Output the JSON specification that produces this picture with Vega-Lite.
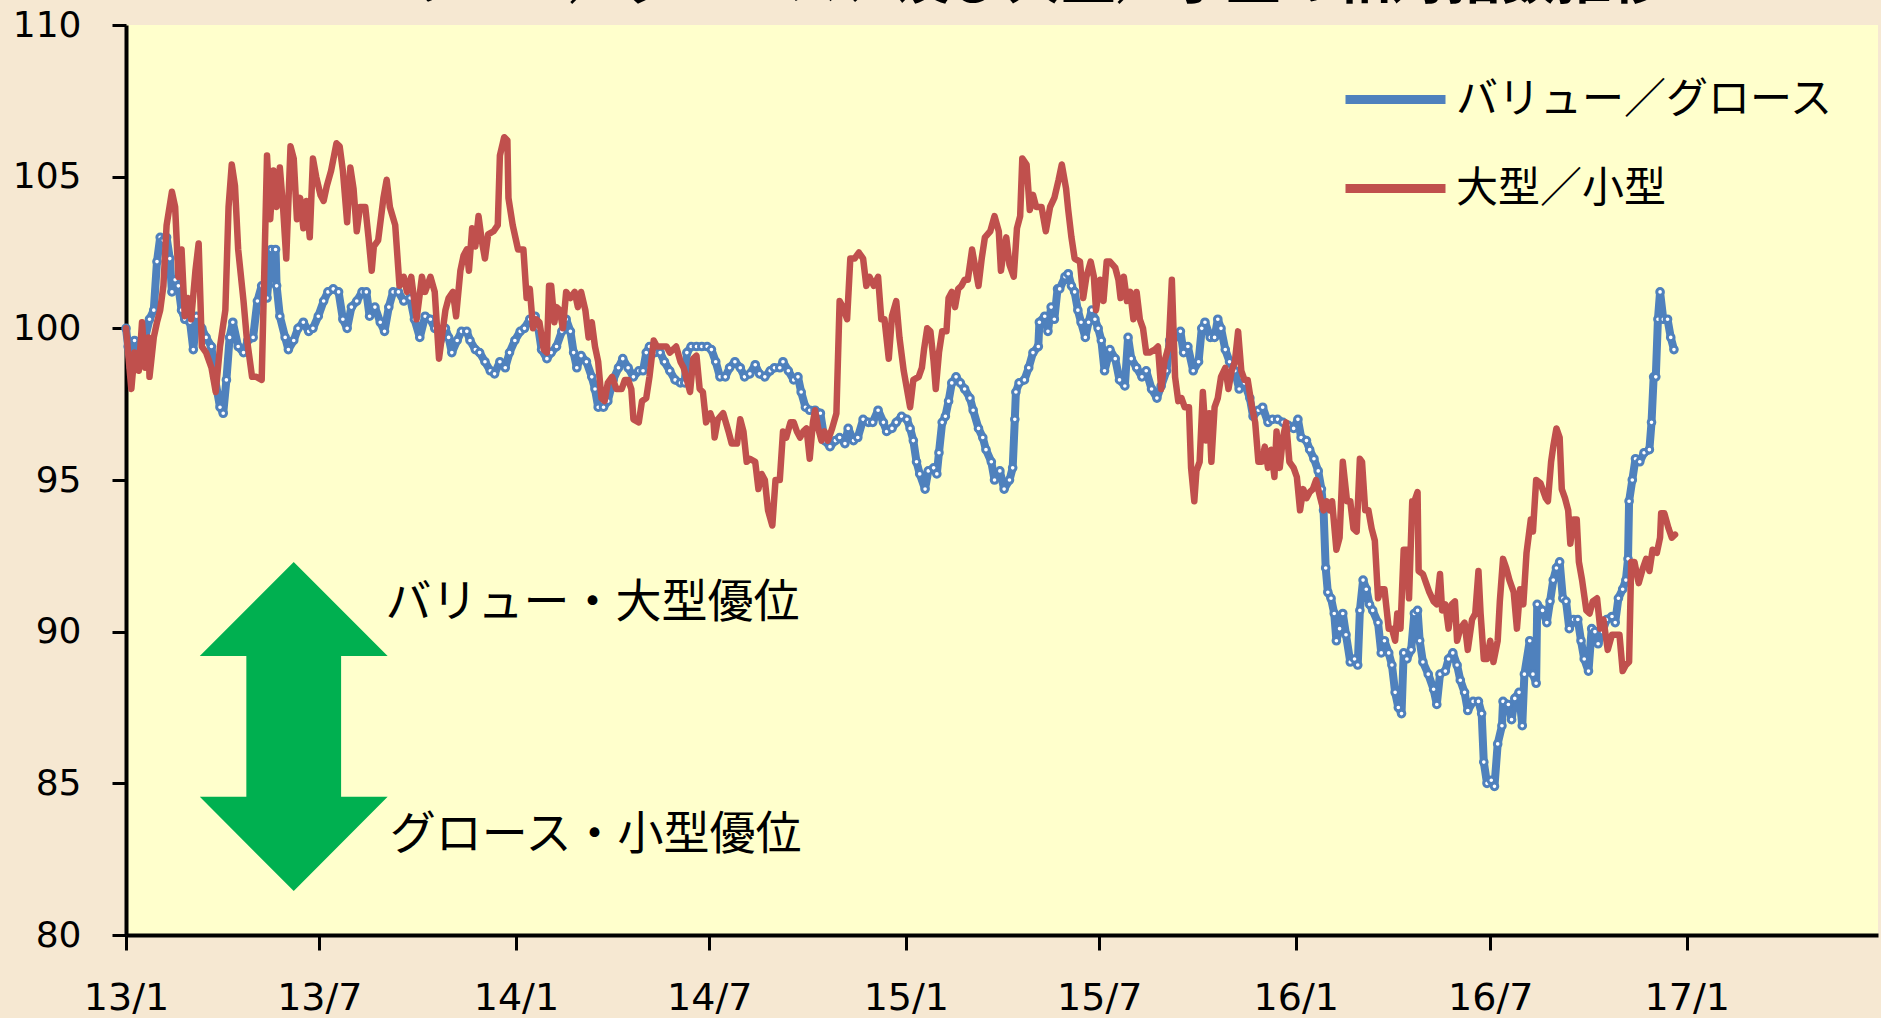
{
"$schema":"https://vega.github.io/schema/vega-lite/v6.json",
"width":1752,"height":910,
"autosize":{"type":"none"},
"padding":{"left":126,"top":25,"right":3,"bottom":83},
"background":"#F6E8D2",
"config":{"view":{"fill":"#FFFFCC","stroke":null},"axis":{"grid":false}},
"datasets":{
"vg":[
{"d":"2013-01-01","v":100.0},{"d":"2013-01-03","v":99.4},{"d":"2013-01-06","v":98.7},{"d":"2013-01-09","v":99.6},{"d":"2013-01-14","v":99.3},{"d":"2013-01-19","v":99.7},{"d":"2013-01-23","v":100.3},{"d":"2013-01-27","v":100.6},{"d":"2013-01-30","v":102.2},{"d":"2013-02-02","v":103.0},{"d":"2013-02-05","v":102.9},{"d":"2013-02-08","v":103.0},{"d":"2013-02-11","v":102.3},{"d":"2013-02-13","v":101.2},{"d":"2013-02-16","v":101.6},{"d":"2013-02-19","v":101.4},{"d":"2013-02-22","v":100.6},{"d":"2013-02-25","v":100.3},{"d":"2013-03-02","v":100.2},{"d":"2013-03-05","v":99.3},{"d":"2013-03-08","v":100.4},{"d":"2013-03-13","v":100.0},{"d":"2013-03-17","v":99.7},{"d":"2013-03-22","v":99.4},{"d":"2013-03-25","v":98.4},{"d":"2013-03-30","v":97.4},{"d":"2013-04-02","v":97.2},{"d":"2013-04-05","v":98.3},{"d":"2013-04-08","v":99.7},{"d":"2013-04-11","v":100.2},{"d":"2013-04-16","v":99.4},{"d":"2013-04-21","v":99.2},{"d":"2013-04-25","v":99.6},{"d":"2013-04-30","v":99.7},{"d":"2013-05-04","v":100.9},{"d":"2013-05-08","v":101.4},{"d":"2013-05-13","v":101.0},{"d":"2013-05-17","v":102.6},{"d":"2013-05-21","v":102.6},{"d":"2013-05-22","v":101.4},{"d":"2013-05-25","v":100.4},{"d":"2013-05-30","v":99.7},{"d":"2013-06-02","v":99.3},{"d":"2013-06-07","v":99.6},{"d":"2013-06-11","v":100.0},{"d":"2013-06-16","v":100.2},{"d":"2013-06-21","v":99.9},{"d":"2013-06-25","v":100.0},{"d":"2013-06-30","v":100.4},{"d":"2013-07-05","v":100.9},{"d":"2013-07-09","v":101.2},{"d":"2013-07-14","v":101.3},{"d":"2013-07-19","v":101.2},{"d":"2013-07-23","v":100.3},{"d":"2013-07-27","v":100.0},{"d":"2013-07-31","v":100.7},{"d":"2013-08-05","v":100.9},{"d":"2013-08-10","v":101.2},{"d":"2013-08-14","v":101.2},{"d":"2013-08-17","v":100.4},{"d":"2013-08-22","v":100.7},{"d":"2013-08-27","v":100.2},{"d":"2013-08-31","v":99.9},{"d":"2013-09-04","v":100.7},{"d":"2013-09-08","v":101.2},{"d":"2013-09-13","v":101.2},{"d":"2013-09-18","v":100.9},{"d":"2013-09-24","v":101.0},{"d":"2013-09-28","v":100.3},{"d":"2013-10-03","v":99.7},{"d":"2013-10-08","v":100.4},{"d":"2013-10-13","v":100.3},{"d":"2013-10-17","v":100.0},{"d":"2013-10-21","v":99.9},{"d":"2013-10-22","v":99.6},{"d":"2013-10-27","v":100.0},{"d":"2013-10-30","v":99.7},{"d":"2013-11-02","v":99.2},{"d":"2013-11-07","v":99.6},{"d":"2013-11-11","v":99.9},{"d":"2013-11-16","v":99.9},{"d":"2013-11-19","v":99.6},{"d":"2013-11-24","v":99.3},{"d":"2013-11-28","v":99.2},{"d":"2013-12-03","v":98.9},{"d":"2013-12-08","v":98.6},{"d":"2013-12-12","v":98.5},{"d":"2013-12-17","v":98.9},{"d":"2013-12-22","v":98.7},{"d":"2013-12-26","v":99.2},{"d":"2013-12-31","v":99.6},
{"d":"2014-01-05","v":99.9},{"d":"2014-01-09","v":100.0},{"d":"2014-01-14","v":100.3},{"d":"2014-01-19","v":100.4},{"d":"2014-01-22","v":100.0},{"d":"2014-01-25","v":99.3},{"d":"2014-01-30","v":99.0},{"d":"2014-02-03","v":99.2},{"d":"2014-02-08","v":99.4},{"d":"2014-02-13","v":99.9},{"d":"2014-02-17","v":100.3},{"d":"2014-02-21","v":99.9},{"d":"2014-02-24","v":99.2},{"d":"2014-02-27","v":98.7},{"d":"2014-03-03","v":99.1},{"d":"2014-03-08","v":98.9},{"d":"2014-03-13","v":98.4},{"d":"2014-03-16","v":98.0},{"d":"2014-03-19","v":97.4},{"d":"2014-03-24","v":97.4},{"d":"2014-03-28","v":97.6},{"d":"2014-04-02","v":98.3},{"d":"2014-04-07","v":98.7},{"d":"2014-04-11","v":99.0},{"d":"2014-04-16","v":98.7},{"d":"2014-04-21","v":98.4},{"d":"2014-04-26","v":98.6},{"d":"2014-04-30","v":98.6},{"d":"2014-05-03","v":99.2},{"d":"2014-05-06","v":99.4},{"d":"2014-05-11","v":99.2},{"d":"2014-05-16","v":99.2},{"d":"2014-05-20","v":98.9},{"d":"2014-05-25","v":98.6},{"d":"2014-05-30","v":98.3},{"d":"2014-06-04","v":98.2},{"d":"2014-06-08","v":98.2},{"d":"2014-06-10","v":99.2},{"d":"2014-06-14","v":99.4},{"d":"2014-06-19","v":99.4},{"d":"2014-06-24","v":99.4},{"d":"2014-06-29","v":99.4},{"d":"2014-07-03","v":99.3},{"d":"2014-07-07","v":98.9},{"d":"2014-07-11","v":98.4},{"d":"2014-07-16","v":98.4},{"d":"2014-07-20","v":98.7},{"d":"2014-07-25","v":98.9},{"d":"2014-07-30","v":98.7},{"d":"2014-08-03","v":98.4},{"d":"2014-08-08","v":98.5},{"d":"2014-08-13","v":98.8},{"d":"2014-08-17","v":98.5},{"d":"2014-08-22","v":98.4},{"d":"2014-08-27","v":98.6},{"d":"2014-08-31","v":98.7},{"d":"2014-09-05","v":98.7},{"d":"2014-09-08","v":98.9},{"d":"2014-09-13","v":98.6},{"d":"2014-09-18","v":98.3},{"d":"2014-09-22","v":98.4},{"d":"2014-09-25","v":97.9},{"d":"2014-09-29","v":97.4},{"d":"2014-10-03","v":97.3},{"d":"2014-10-08","v":97.3},{"d":"2014-10-13","v":97.2},{"d":"2014-10-17","v":96.3},{"d":"2014-10-22","v":96.1},{"d":"2014-10-27","v":96.3},{"d":"2014-10-31","v":96.4},{"d":"2014-11-05","v":96.2},{"d":"2014-11-08","v":96.7},{"d":"2014-11-13","v":96.3},{"d":"2014-11-17","v":96.4},{"d":"2014-11-22","v":97.0},{"d":"2014-11-27","v":96.9},{"d":"2014-12-01","v":96.9},{"d":"2014-12-06","v":97.3},{"d":"2014-12-11","v":96.9},{"d":"2014-12-14","v":96.6},{"d":"2014-12-19","v":96.7},{"d":"2014-12-23","v":96.9},{"d":"2014-12-28","v":97.1},
{"d":"2015-01-02","v":97.0},{"d":"2015-01-05","v":96.7},{"d":"2015-01-08","v":96.3},{"d":"2015-01-11","v":95.6},{"d":"2015-01-14","v":95.2},{"d":"2015-01-19","v":94.7},{"d":"2015-01-22","v":95.3},{"d":"2015-01-27","v":95.4},{"d":"2015-01-30","v":95.2},{"d":"2015-02-01","v":95.9},{"d":"2015-02-04","v":96.9},{"d":"2015-02-07","v":97.1},{"d":"2015-02-10","v":97.6},{"d":"2015-02-13","v":98.2},{"d":"2015-02-17","v":98.4},{"d":"2015-02-21","v":98.2},{"d":"2015-02-25","v":98.0},{"d":"2015-03-02","v":97.7},{"d":"2015-03-05","v":97.3},{"d":"2015-03-10","v":96.7},{"d":"2015-03-14","v":96.4},{"d":"2015-03-17","v":96.0},{"d":"2015-03-22","v":95.6},{"d":"2015-03-25","v":95.0},{"d":"2015-03-30","v":95.3},{"d":"2015-04-03","v":94.7},{"d":"2015-04-08","v":95.0},{"d":"2015-04-11","v":95.4},{"d":"2015-04-13","v":97.0},{"d":"2015-04-14","v":97.9},{"d":"2015-04-17","v":98.2},{"d":"2015-04-22","v":98.3},{"d":"2015-04-26","v":98.7},{"d":"2015-04-30","v":99.2},{"d":"2015-05-05","v":99.4},{"d":"2015-05-06","v":100.2},{"d":"2015-05-11","v":100.4},{"d":"2015-05-14","v":99.9},{"d":"2015-05-17","v":100.7},{"d":"2015-05-20","v":100.3},{"d":"2015-05-23","v":101.3},{"d":"2015-05-25","v":101.3},{"d":"2015-05-30","v":101.7},{"d":"2015-06-02","v":101.8},{"d":"2015-06-05","v":101.4},{"d":"2015-06-08","v":101.2},{"d":"2015-06-11","v":100.6},{"d":"2015-06-14","v":100.2},{"d":"2015-06-18","v":99.7},{"d":"2015-06-21","v":100.2},{"d":"2015-06-24","v":100.6},{"d":"2015-06-27","v":100.3},{"d":"2015-06-30","v":100.0},{"d":"2015-07-03","v":99.6},{"d":"2015-07-06","v":98.6},{"d":"2015-07-11","v":99.3},{"d":"2015-07-16","v":99.0},{"d":"2015-07-20","v":98.3},{"d":"2015-07-25","v":98.1},{"d":"2015-07-28","v":99.7},{"d":"2015-07-31","v":99.0},{"d":"2015-08-05","v":98.7},{"d":"2015-08-10","v":98.4},{"d":"2015-08-14","v":98.6},{"d":"2015-08-19","v":98.0},{"d":"2015-08-24","v":97.7},{"d":"2015-08-28","v":98.1},{"d":"2015-09-02","v":98.6},{"d":"2015-09-05","v":99.6},{"d":"2015-09-10","v":99.7},{"d":"2015-09-15","v":99.9},{"d":"2015-09-18","v":99.2},{"d":"2015-09-22","v":99.4},{"d":"2015-09-27","v":98.6},{"d":"2015-10-02","v":98.9},{"d":"2015-10-05","v":100.0},{"d":"2015-10-08","v":100.2},{"d":"2015-10-13","v":99.7},{"d":"2015-10-17","v":99.7},{"d":"2015-10-20","v":100.3},{"d":"2015-10-23","v":100.0},{"d":"2015-10-27","v":99.3},{"d":"2015-10-31","v":98.9},{"d":"2015-11-05","v":98.6},{"d":"2015-11-09","v":98.0},{"d":"2015-11-14","v":98.2},{"d":"2015-11-19","v":97.7},{"d":"2015-11-22","v":97.1},{"d":"2015-11-27","v":97.3},{"d":"2015-12-01","v":97.4},{"d":"2015-12-06","v":96.9},{"d":"2015-12-10","v":97.0},{"d":"2015-12-15","v":97.0},{"d":"2015-12-20","v":96.9},{"d":"2015-12-25","v":96.8},{"d":"2015-12-30","v":96.7},
{"d":"2016-01-03","v":97.0},{"d":"2016-01-06","v":96.4},{"d":"2016-01-11","v":96.3},{"d":"2016-01-14","v":96.0},{"d":"2016-01-18","v":95.7},{"d":"2016-01-22","v":95.3},{"d":"2016-01-25","v":94.7},{"d":"2016-01-27","v":94.0},{"d":"2016-01-29","v":92.1},{"d":"2016-01-31","v":91.3},{"d":"2016-02-03","v":91.1},{"d":"2016-02-06","v":90.6},{"d":"2016-02-08","v":89.7},{"d":"2016-02-11","v":90.1},{"d":"2016-02-14","v":90.6},{"d":"2016-02-17","v":89.9},{"d":"2016-02-21","v":89.0},{"d":"2016-02-25","v":89.1},{"d":"2016-02-28","v":88.9},{"d":"2016-03-01","v":90.7},{"d":"2016-03-04","v":91.7},{"d":"2016-03-07","v":91.4},{"d":"2016-03-10","v":90.9},{"d":"2016-03-13","v":90.7},{"d":"2016-03-18","v":90.3},{"d":"2016-03-21","v":89.3},{"d":"2016-03-24","v":89.7},{"d":"2016-03-28","v":89.3},{"d":"2016-03-31","v":88.9},{"d":"2016-04-03","v":88.0},{"d":"2016-04-06","v":87.5},{"d":"2016-04-09","v":87.3},{"d":"2016-04-11","v":89.3},{"d":"2016-04-14","v":89.1},{"d":"2016-04-18","v":89.4},{"d":"2016-04-21","v":90.6},{"d":"2016-04-24","v":90.7},{"d":"2016-04-26","v":89.7},{"d":"2016-04-29","v":89.0},{"d":"2016-05-04","v":88.6},{"d":"2016-05-09","v":88.1},{"d":"2016-05-12","v":87.6},{"d":"2016-05-15","v":88.6},{"d":"2016-05-20","v":88.7},{"d":"2016-05-23","v":89.1},{"d":"2016-05-27","v":89.3},{"d":"2016-05-31","v":88.9},{"d":"2016-06-03","v":88.4},{"d":"2016-06-07","v":88.0},{"d":"2016-06-10","v":87.4},{"d":"2016-06-15","v":87.7},{"d":"2016-06-20","v":87.7},{"d":"2016-06-23","v":87.3},{"d":"2016-06-25","v":85.7},{"d":"2016-06-28","v":85.0},{"d":"2016-07-02","v":85.1},{"d":"2016-07-05","v":84.9},{"d":"2016-07-08","v":86.3},{"d":"2016-07-12","v":86.9},{"d":"2016-07-13","v":87.7},{"d":"2016-07-18","v":87.6},{"d":"2016-07-21","v":87.1},{"d":"2016-07-24","v":87.8},{"d":"2016-07-28","v":88.0},{"d":"2016-07-31","v":86.9},{"d":"2016-08-02","v":88.6},{"d":"2016-08-07","v":89.7},{"d":"2016-08-10","v":88.6},{"d":"2016-08-13","v":88.3},{"d":"2016-08-14","v":90.9},{"d":"2016-08-19","v":90.7},{"d":"2016-08-23","v":90.3},{"d":"2016-08-26","v":91.0},{"d":"2016-08-29","v":91.7},{"d":"2016-09-01","v":92.1},{"d":"2016-09-04","v":92.3},{"d":"2016-09-07","v":91.1},{"d":"2016-09-10","v":91.0},{"d":"2016-09-13","v":90.1},{"d":"2016-09-17","v":90.4},{"d":"2016-09-21","v":90.4},{"d":"2016-09-24","v":89.7},{"d":"2016-09-27","v":89.1},{"d":"2016-10-01","v":88.7},{"d":"2016-10-04","v":90.1},{"d":"2016-10-07","v":90.0},{"d":"2016-10-10","v":89.6},{"d":"2016-10-14","v":90.0},{"d":"2016-10-18","v":90.4},{"d":"2016-10-23","v":90.5},{"d":"2016-10-26","v":90.3},{"d":"2016-10-29","v":91.1},{"d":"2016-11-02","v":91.4},{"d":"2016-11-05","v":91.7},{"d":"2016-11-07","v":92.4},{"d":"2016-11-08","v":94.3},{"d":"2016-11-11","v":95.0},{"d":"2016-11-14","v":95.7},{"d":"2016-11-18","v":95.6},{"d":"2016-11-22","v":95.9},{"d":"2016-11-27","v":96.0},{"d":"2016-11-29","v":96.9},{"d":"2016-12-01","v":98.4},{"d":"2016-12-03","v":98.4},{"d":"2016-12-05","v":100.3},{"d":"2016-12-07","v":101.2},{"d":"2016-12-10","v":100.3},{"d":"2016-12-14","v":100.3},{"d":"2016-12-17","v":99.7},{"d":"2016-12-20","v":99.3}
],
"ls":[
{"d":"2013-01-01","v":100.0},{"d":"2013-01-06","v":98.0},{"d":"2013-01-09","v":99.2},{"d":"2013-01-13","v":98.6},{"d":"2013-01-16","v":100.2},{"d":"2013-01-19","v":98.7},{"d":"2013-01-22","v":99.7},{"d":"2013-01-23","v":98.4},{"d":"2013-01-27","v":99.7},{"d":"2013-01-30","v":100.2},{"d":"2013-02-02","v":100.6},{"d":"2013-02-05","v":101.4},{"d":"2013-02-08","v":103.4},{"d":"2013-02-13","v":104.5},{"d":"2013-02-16","v":104.0},{"d":"2013-02-19","v":101.7},{"d":"2013-02-22","v":102.6},{"d":"2013-02-25","v":100.4},{"d":"2013-02-28","v":101.0},{"d":"2013-03-03","v":100.3},{"d":"2013-03-07","v":101.9},{"d":"2013-03-10","v":102.8},{"d":"2013-03-13","v":99.4},{"d":"2013-03-17","v":99.2},{"d":"2013-03-22","v":98.7},{"d":"2013-03-26","v":97.9},{"d":"2013-03-30","v":99.4},{"d":"2013-04-04","v":100.6},{"d":"2013-04-07","v":104.0},{"d":"2013-04-10","v":105.4},{"d":"2013-04-13","v":104.7},{"d":"2013-04-16","v":102.6},{"d":"2013-04-21","v":100.9},{"d":"2013-04-24","v":99.7},{"d":"2013-04-29","v":98.4},{"d":"2013-05-03","v":98.4},{"d":"2013-05-08","v":98.3},{"d":"2013-05-10","v":101.2},{"d":"2013-05-13","v":105.7},{"d":"2013-05-16","v":103.6},{"d":"2013-05-19","v":105.2},{"d":"2013-05-22","v":104.0},{"d":"2013-05-25","v":105.3},{"d":"2013-05-28","v":104.0},{"d":"2013-05-31","v":102.3},{"d":"2013-06-04","v":106.0},{"d":"2013-06-07","v":105.6},{"d":"2013-06-10","v":103.6},{"d":"2013-06-13","v":104.3},{"d":"2013-06-16","v":103.3},{"d":"2013-06-19","v":104.2},{"d":"2013-06-22","v":103.0},{"d":"2013-06-25","v":105.6},{"d":"2013-06-28","v":105.0},{"d":"2013-07-02","v":104.4},{"d":"2013-07-05","v":104.2},{"d":"2013-07-08","v":104.7},{"d":"2013-07-12","v":105.2},{"d":"2013-07-17","v":106.1},{"d":"2013-07-20","v":106.0},{"d":"2013-07-23","v":105.2},{"d":"2013-07-27","v":103.5},{"d":"2013-07-30","v":105.3},{"d":"2013-08-02","v":104.6},{"d":"2013-08-05","v":103.2},{"d":"2013-08-08","v":104.0},{"d":"2013-08-13","v":104.0},{"d":"2013-08-16","v":103.0},{"d":"2013-08-19","v":101.9},{"d":"2013-08-21","v":102.7},{"d":"2013-08-25","v":102.9},{"d":"2013-08-30","v":104.3},{"d":"2013-09-02","v":104.9},{"d":"2013-09-05","v":104.0},{"d":"2013-09-10","v":103.4},{"d":"2013-09-14","v":101.4},{"d":"2013-09-18","v":101.7},{"d":"2013-09-21","v":101.2},{"d":"2013-09-25","v":101.7},{"d":"2013-09-30","v":100.3},{"d":"2013-10-05","v":101.7},{"d":"2013-10-08","v":101.2},{"d":"2013-10-13","v":101.7},{"d":"2013-10-17","v":101.2},{"d":"2013-10-21","v":99.0},{"d":"2013-10-27","v":100.6},{"d":"2013-10-30","v":101.0},{"d":"2013-11-03","v":101.2},{"d":"2013-11-06","v":100.4},{"d":"2013-11-10","v":101.9},{"d":"2013-11-13","v":102.4},{"d":"2013-11-16","v":102.6},{"d":"2013-11-18","v":101.9},{"d":"2013-11-21","v":103.3},{"d":"2013-11-24","v":102.7},{"d":"2013-11-27","v":103.7},{"d":"2013-11-30","v":102.9},{"d":"2013-12-03","v":102.3},{"d":"2013-12-06","v":103.1},{"d":"2013-12-11","v":103.2},{"d":"2013-12-15","v":103.4},{"d":"2013-12-17","v":105.7},{"d":"2013-12-21","v":106.3},{"d":"2013-12-24","v":106.2},{"d":"2013-12-25","v":104.3},{"d":"2013-12-29","v":103.4},
{"d":"2014-01-03","v":102.6},{"d":"2014-01-08","v":102.6},{"d":"2014-01-11","v":101.0},{"d":"2014-01-14","v":101.3},{"d":"2014-01-17","v":100.0},{"d":"2014-01-20","v":100.3},{"d":"2014-01-23","v":100.2},{"d":"2014-01-27","v":99.3},{"d":"2014-01-30","v":99.2},{"d":"2014-02-01","v":101.4},{"d":"2014-02-03","v":101.4},{"d":"2014-02-06","v":100.2},{"d":"2014-02-08","v":100.7},{"d":"2014-02-11","v":100.6},{"d":"2014-02-14","v":100.0},{"d":"2014-02-17","v":101.2},{"d":"2014-02-21","v":101.0},{"d":"2014-02-25","v":101.2},{"d":"2014-02-28","v":100.7},{"d":"2014-03-03","v":101.2},{"d":"2014-03-07","v":100.6},{"d":"2014-03-10","v":99.7},{"d":"2014-03-13","v":100.2},{"d":"2014-03-16","v":99.4},{"d":"2014-03-19","v":98.9},{"d":"2014-03-22","v":97.7},{"d":"2014-03-25","v":97.6},{"d":"2014-03-28","v":98.2},{"d":"2014-04-01","v":98.4},{"d":"2014-04-05","v":98.0},{"d":"2014-04-10","v":98.0},{"d":"2014-04-13","v":98.3},{"d":"2014-04-16","v":98.3},{"d":"2014-04-19","v":98.0},{"d":"2014-04-21","v":97.0},{"d":"2014-04-26","v":96.9},{"d":"2014-04-29","v":97.6},{"d":"2014-05-03","v":97.7},{"d":"2014-05-06","v":98.4},{"d":"2014-05-10","v":99.6},{"d":"2014-05-13","v":99.4},{"d":"2014-05-17","v":99.4},{"d":"2014-05-22","v":99.4},{"d":"2014-05-25","v":99.2},{"d":"2014-05-28","v":99.3},{"d":"2014-05-31","v":99.4},{"d":"2014-06-04","v":98.9},{"d":"2014-06-07","v":98.7},{"d":"2014-06-10","v":98.3},{"d":"2014-06-13","v":97.9},{"d":"2014-06-16","v":99.0},{"d":"2014-06-19","v":99.1},{"d":"2014-06-22","v":98.0},{"d":"2014-06-25","v":97.9},{"d":"2014-06-28","v":96.9},{"d":"2014-07-02","v":97.2},{"d":"2014-07-05","v":96.9},{"d":"2014-07-06","v":96.4},{"d":"2014-07-09","v":97.0},{"d":"2014-07-14","v":97.2},{"d":"2014-07-19","v":96.6},{"d":"2014-07-22","v":96.2},{"d":"2014-07-27","v":96.2},{"d":"2014-07-30","v":97.0},{"d":"2014-08-02","v":96.6},{"d":"2014-08-05","v":95.6},{"d":"2014-08-08","v":95.7},{"d":"2014-08-13","v":95.6},{"d":"2014-08-16","v":94.7},{"d":"2014-08-19","v":95.2},{"d":"2014-08-22","v":95.0},{"d":"2014-08-25","v":94.0},{"d":"2014-08-29","v":93.5},{"d":"2014-09-01","v":95.0},{"d":"2014-09-05","v":95.0},{"d":"2014-09-08","v":96.6},{"d":"2014-09-11","v":96.4},{"d":"2014-09-15","v":96.9},{"d":"2014-09-18","v":96.9},{"d":"2014-09-21","v":96.6},{"d":"2014-09-24","v":96.4},{"d":"2014-09-27","v":96.6},{"d":"2014-09-30","v":96.7},{"d":"2014-10-03","v":95.7},{"d":"2014-10-06","v":96.9},{"d":"2014-10-08","v":97.3},{"d":"2014-10-11","v":96.7},{"d":"2014-10-14","v":96.3},{"d":"2014-10-17","v":96.6},{"d":"2014-10-20","v":96.3},{"d":"2014-10-24","v":96.7},{"d":"2014-10-28","v":97.2},{"d":"2014-10-31","v":100.9},{"d":"2014-11-03","v":100.7},{"d":"2014-11-07","v":100.3},{"d":"2014-11-10","v":102.3},{"d":"2014-11-14","v":102.3},{"d":"2014-11-18","v":102.5},{"d":"2014-11-22","v":102.3},{"d":"2014-11-25","v":101.4},{"d":"2014-11-28","v":101.7},{"d":"2014-12-02","v":101.4},{"d":"2014-12-06","v":101.7},{"d":"2014-12-09","v":100.3},{"d":"2014-12-12","v":100.3},{"d":"2014-12-16","v":99.0},{"d":"2014-12-19","v":100.4},{"d":"2014-12-23","v":100.9},{"d":"2014-12-26","v":99.7},{"d":"2014-12-30","v":98.6},
{"d":"2015-01-02","v":98.0},{"d":"2015-01-05","v":97.4},{"d":"2015-01-08","v":98.3},{"d":"2015-01-13","v":98.4},{"d":"2015-01-16","v":98.7},{"d":"2015-01-18","v":99.3},{"d":"2015-01-21","v":100.0},{"d":"2015-01-24","v":99.9},{"d":"2015-01-27","v":98.9},{"d":"2015-01-29","v":98.0},{"d":"2015-02-01","v":99.2},{"d":"2015-02-04","v":99.9},{"d":"2015-02-08","v":99.9},{"d":"2015-02-10","v":101.0},{"d":"2015-02-13","v":101.2},{"d":"2015-02-16","v":100.7},{"d":"2015-02-19","v":101.3},{"d":"2015-02-22","v":101.4},{"d":"2015-02-25","v":101.6},{"d":"2015-02-28","v":101.6},{"d":"2015-03-04","v":102.6},{"d":"2015-03-07","v":102.0},{"d":"2015-03-10","v":101.4},{"d":"2015-03-13","v":102.3},{"d":"2015-03-16","v":103.0},{"d":"2015-03-21","v":103.2},{"d":"2015-03-25","v":103.7},{"d":"2015-03-29","v":103.2},{"d":"2015-03-31","v":101.9},{"d":"2015-04-02","v":102.4},{"d":"2015-04-05","v":103.0},{"d":"2015-04-08","v":102.1},{"d":"2015-04-12","v":101.7},{"d":"2015-04-15","v":103.3},{"d":"2015-04-18","v":103.7},{"d":"2015-04-20","v":105.6},{"d":"2015-04-24","v":105.4},{"d":"2015-04-27","v":103.9},{"d":"2015-04-30","v":104.4},{"d":"2015-05-03","v":104.0},{"d":"2015-05-08","v":104.0},{"d":"2015-05-12","v":103.2},{"d":"2015-05-16","v":104.0},{"d":"2015-05-20","v":104.3},{"d":"2015-05-24","v":104.9},{"d":"2015-05-27","v":105.4},{"d":"2015-05-31","v":104.6},{"d":"2015-06-02","v":103.9},{"d":"2015-06-05","v":103.0},{"d":"2015-06-08","v":102.3},{"d":"2015-06-13","v":102.2},{"d":"2015-06-16","v":101.0},{"d":"2015-06-19","v":101.7},{"d":"2015-06-23","v":102.2},{"d":"2015-06-26","v":101.7},{"d":"2015-06-28","v":100.6},{"d":"2015-07-02","v":101.6},{"d":"2015-07-05","v":100.9},{"d":"2015-07-08","v":102.2},{"d":"2015-07-11","v":102.2},{"d":"2015-07-16","v":102.0},{"d":"2015-07-19","v":101.6},{"d":"2015-07-21","v":101.0},{"d":"2015-07-24","v":101.7},{"d":"2015-07-27","v":100.9},{"d":"2015-07-30","v":101.2},{"d":"2015-08-02","v":100.3},{"d":"2015-08-05","v":101.2},{"d":"2015-08-08","v":100.3},{"d":"2015-08-11","v":100.0},{"d":"2015-08-14","v":99.2},{"d":"2015-08-17","v":99.2},{"d":"2015-08-22","v":99.3},{"d":"2015-08-25","v":99.4},{"d":"2015-08-28","v":98.0},{"d":"2015-08-31","v":98.9},{"d":"2015-09-04","v":99.4},{"d":"2015-09-07","v":101.6},{"d":"2015-09-10","v":98.4},{"d":"2015-09-13","v":97.6},{"d":"2015-09-16","v":97.7},{"d":"2015-09-19","v":97.4},{"d":"2015-09-23","v":97.4},{"d":"2015-09-25","v":95.4},{"d":"2015-09-28","v":94.3},{"d":"2015-09-30","v":95.3},{"d":"2015-10-03","v":95.6},{"d":"2015-10-06","v":97.9},{"d":"2015-10-09","v":96.3},{"d":"2015-10-12","v":97.2},{"d":"2015-10-14","v":95.6},{"d":"2015-10-17","v":97.4},{"d":"2015-10-20","v":97.7},{"d":"2015-10-23","v":98.4},{"d":"2015-10-27","v":98.7},{"d":"2015-10-30","v":98.0},{"d":"2015-11-02","v":98.6},{"d":"2015-11-05","v":98.9},{"d":"2015-11-08","v":99.9},{"d":"2015-11-11","v":98.6},{"d":"2015-11-14","v":98.3},{"d":"2015-11-17","v":98.3},{"d":"2015-11-21","v":97.4},{"d":"2015-11-24","v":96.9},{"d":"2015-11-27","v":95.6},{"d":"2015-11-30","v":95.6},{"d":"2015-12-03","v":96.1},{"d":"2015-12-06","v":95.4},{"d":"2015-12-09","v":96.0},{"d":"2015-12-12","v":95.1},{"d":"2015-12-14","v":96.6},{"d":"2015-12-17","v":95.4},{"d":"2015-12-20","v":96.4},{"d":"2015-12-23","v":96.9},{"d":"2015-12-26","v":95.6},{"d":"2015-12-30","v":95.4},
{"d":"2016-01-02","v":95.1},{"d":"2016-01-05","v":94.0},{"d":"2016-01-08","v":94.7},{"d":"2016-01-11","v":94.4},{"d":"2016-01-14","v":94.6},{"d":"2016-01-17","v":94.7},{"d":"2016-01-20","v":95.0},{"d":"2016-01-24","v":94.4},{"d":"2016-01-27","v":94.0},{"d":"2016-01-30","v":94.3},{"d":"2016-02-02","v":94.0},{"d":"2016-02-04","v":94.3},{"d":"2016-02-08","v":92.7},{"d":"2016-02-11","v":93.1},{"d":"2016-02-14","v":95.6},{"d":"2016-02-18","v":94.3},{"d":"2016-02-21","v":94.3},{"d":"2016-02-24","v":93.4},{"d":"2016-02-27","v":93.3},{"d":"2016-03-01","v":95.7},{"d":"2016-03-03","v":95.6},{"d":"2016-03-06","v":94.0},{"d":"2016-03-09","v":94.0},{"d":"2016-03-12","v":93.4},{"d":"2016-03-15","v":93.0},{"d":"2016-03-18","v":91.1},{"d":"2016-03-21","v":91.4},{"d":"2016-03-24","v":91.4},{"d":"2016-03-28","v":90.1},{"d":"2016-03-31","v":90.1},{"d":"2016-04-03","v":89.7},{"d":"2016-04-05","v":90.6},{"d":"2016-04-08","v":90.1},{"d":"2016-04-11","v":92.7},{"d":"2016-04-14","v":92.7},{"d":"2016-04-16","v":91.1},{"d":"2016-04-19","v":94.3},{"d":"2016-04-21","v":94.3},{"d":"2016-04-24","v":94.6},{"d":"2016-04-25","v":92.0},{"d":"2016-04-29","v":91.9},{"d":"2016-05-02","v":91.6},{"d":"2016-05-05","v":91.3},{"d":"2016-05-09","v":91.0},{"d":"2016-05-12","v":90.9},{"d":"2016-05-15","v":91.9},{"d":"2016-05-17","v":90.7},{"d":"2016-05-20","v":90.9},{"d":"2016-05-23","v":90.1},{"d":"2016-05-26","v":90.9},{"d":"2016-05-29","v":91.0},{"d":"2016-05-31","v":89.7},{"d":"2016-06-03","v":90.1},{"d":"2016-06-07","v":90.3},{"d":"2016-06-10","v":89.4},{"d":"2016-06-14","v":90.4},{"d":"2016-06-17","v":90.6},{"d":"2016-06-20","v":92.0},{"d":"2016-06-22","v":90.6},{"d":"2016-06-25","v":89.1},{"d":"2016-06-28","v":89.1},{"d":"2016-07-01","v":89.7},{"d":"2016-07-04","v":89.0},{"d":"2016-07-08","v":89.7},{"d":"2016-07-10","v":91.0},{"d":"2016-07-13","v":92.4},{"d":"2016-07-16","v":92.1},{"d":"2016-07-19","v":91.7},{"d":"2016-07-23","v":91.3},{"d":"2016-07-26","v":90.1},{"d":"2016-07-29","v":91.4},{"d":"2016-08-01","v":90.9},{"d":"2016-08-04","v":92.6},{"d":"2016-08-08","v":93.7},{"d":"2016-08-10","v":93.3},{"d":"2016-08-13","v":95.0},{"d":"2016-08-17","v":94.9},{"d":"2016-08-19","v":94.7},{"d":"2016-08-22","v":94.4},{"d":"2016-08-24","v":94.3},{"d":"2016-08-27","v":95.6},{"d":"2016-08-29","v":96.1},{"d":"2016-09-01","v":96.7},{"d":"2016-09-04","v":96.4},{"d":"2016-09-06","v":94.7},{"d":"2016-09-09","v":94.4},{"d":"2016-09-12","v":94.0},{"d":"2016-09-14","v":92.9},{"d":"2016-09-17","v":93.7},{"d":"2016-09-20","v":93.7},{"d":"2016-09-22","v":92.3},{"d":"2016-09-25","v":91.7},{"d":"2016-09-29","v":90.7},{"d":"2016-10-02","v":90.6},{"d":"2016-10-05","v":91.0},{"d":"2016-10-09","v":91.1},{"d":"2016-10-12","v":90.1},{"d":"2016-10-15","v":90.4},{"d":"2016-10-19","v":89.4},{"d":"2016-10-23","v":89.9},{"d":"2016-10-26","v":89.9},{"d":"2016-10-30","v":89.9},{"d":"2016-11-02","v":88.7},{"d":"2016-11-05","v":88.9},{"d":"2016-11-08","v":89.0},{"d":"2016-11-10","v":92.3},{"d":"2016-11-13","v":92.3},{"d":"2016-11-17","v":91.6},{"d":"2016-11-21","v":92.1},{"d":"2016-11-24","v":92.4},{"d":"2016-11-27","v":92.0},{"d":"2016-11-30","v":92.7},{"d":"2016-12-04","v":92.6},{"d":"2016-12-07","v":93.1},{"d":"2016-12-08","v":93.9},{"d":"2016-12-11","v":93.9},{"d":"2016-12-15","v":93.4},{"d":"2016-12-18","v":93.1},{"d":"2016-12-21","v":93.2}
]
},
"layer":[
{"data":{"name":"vg"},
 "mark":{"type":"line","strokeWidth":8,"strokeJoin":"round","strokeCap":"round"},
 "encoding":{
  "x":{"field":"d","type":"temporal",
   "scale":{"type":"utc","domain":[{"year":2013,"month":1,"date":1,"utc":true},{"year":2017,"month":6,"date":29,"utc":true}]},
   "axis":{"title":null,"format":"%y/%-m",
    "values":[{"year":2013,"month":1,"date":1,"utc":true},{"year":2013,"month":7,"date":1,"utc":true},{"year":2014,"month":1,"date":1,"utc":true},{"year":2014,"month":7,"date":1,"utc":true},{"year":2015,"month":1,"date":1,"utc":true},{"year":2015,"month":7,"date":1,"utc":true},{"year":2016,"month":1,"date":1,"utc":true},{"year":2016,"month":7,"date":1,"utc":true},{"year":2017,"month":1,"date":1,"utc":true}],
    "labelFont":"DejaVu Sans","labelFontSize":38,"labelColor":"#000000","labelPadding":29,"labelFlush":false,"labelOverlap":false,
    "tickSize":15,"tickWidth":3,"tickColor":"#000000","domainColor":"#000000","domainWidth":4,"grid":false}},
  "y":{"field":"v","type":"quantitative",
   "scale":{"domain":[80,110],"nice":false,"zero":false},
   "axis":{"title":null,"values":[80,85,90,95,100,105,110],"labelFont":"DejaVu Sans","labelFontSize":36,"labelColor":"#000000","labelPadding":31,
    "tickSize":14,"tickWidth":3,"tickColor":"#000000","domainColor":"#000000","domainWidth":4,"grid":false}},
  "color":{"datum":"バリュー／グロース","type":"nominal",
   "scale":{"domain":["バリュー／グロース","大型／小型"],"range":["#4F81BD","#C0504D"]},
   "legend":{"title":null,"orient":"none","legendX":1215,"legendY":20,"padding":0,"symbolType":"stroke","symbolSize":10000,"symbolStrokeWidth":9,
    "labelFont":"Noto Sans CJK JP","labelFontSize":42,"labelColor":"#000000","labelOffset":6,"labelLimit":0,"rowPadding":13}}
 }},
{"data":{"name":"vg"},
 "mark":{"type":"point","shape":"circle","filled":true,"fill":"#FFFFFF","stroke":"#4F81BD","strokeWidth":3,"size":44,"opacity":1},
 "encoding":{"x":{"field":"d","type":"temporal"},"y":{"field":"v","type":"quantitative"}}},
{"data":{"name":"ls"},
 "mark":{"type":"line","strokeWidth":6.5,"strokeJoin":"round","strokeCap":"round"},
 "encoding":{"x":{"field":"d","type":"temporal"},"y":{"field":"v","type":"quantitative"},
  "color":{"datum":"大型／小型","type":"nominal"}}},
{"data":{"values":[{"label":"arrow"}]},
 "mark":{"type":"point","shape":"M0,-1L0.571,-0.429L0.288,-0.429L0.288,0.427L0.571,0.427L0,1L-0.571,0.427L-0.288,0.427L-0.288,-0.429L-0.571,-0.429Z","filled":true,"fill":"#00B050","strokeWidth":0,"size":108241,"opacity":1},
 "encoding":{"x":{"datum":{"year":2013,"month":6,"date":7,"utc":true},"type":"temporal"},"y":{"datum":86.87,"type":"quantitative"}}},
{"data":{"values":[{"t":"バリュー・大型優位"}]},
 "mark":{"type":"text","font":"Noto Sans CJK JP","fontSize":46,"align":"left","baseline":"middle","color":"#000000"},
 "encoding":{"text":{"field":"t"},"x":{"datum":{"year":2013,"month":9,"date":1,"utc":true},"type":"temporal"},"y":{"datum":90.94,"type":"quantitative"}}},
{"data":{"values":[{"t":"グロース・小型優位"}]},
 "mark":{"type":"text","font":"Noto Sans CJK JP","fontSize":46,"align":"left","baseline":"middle","color":"#000000"},
 "encoding":{"text":{"field":"t"},"x":{"datum":{"year":2013,"month":9,"date":5,"utc":true},"type":"temporal"},"y":{"datum":83.3,"type":"quantitative"}}},
{"data":{"values":[{"t":"バリュー／グロース、及び大型／小型の相対指数推移"}]},
 "mark":{"type":"text","font":"Noto Sans CJK JP","fontSize":55,"fontWeight":"bold","align":"center","baseline":"alphabetic","color":"#000000"},
 "encoding":{"text":{"field":"t"},"x":{"datum":{"year":2015,"month":4,"date":6,"utc":true},"type":"temporal"},"y":{"datum":110.88,"type":"quantitative"}}}
]
}
